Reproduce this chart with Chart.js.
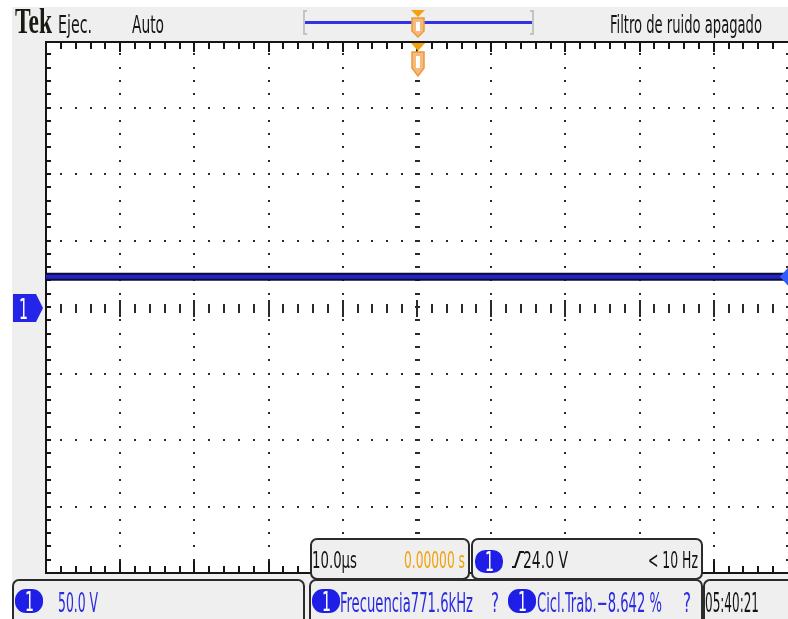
<!DOCTYPE html>
<html>
<head>
<meta charset="utf-8">
<script src="https://cdn.jsdelivr.net/npm/chart.js@4.4.0/dist/chart.umd.min.js"></script>
<style>
html,body{margin:0;padding:0;background:#ffffff;}
canvas{display:block;}
</style>
</head>
<body>
<canvas id="scope" width="788" height="619"></canvas>
<script>
// ---- data ----
const timeUs    = [-50, -40, -30, -20, -10, 0, 10, 20, 30, 40, 50];          // 10.0 µs / div
const ch1Volts  = [22.8, 22.8, 22.8, 22.8, 22.8, 22.8, 22.8, 22.8, 22.8, 22.8, 22.8]; // 50.0 V / div
const timeRange = [-50, 50];
const voltRange = [-200, 200];
const xDivTicks = [-50, -40, -30, -20, -10, 0, 10, 20, 30, 40, 50];
const yDivTicks = [-200, -150, -100, -50, 0, 50, 100, 150, 200];
const xMinorStep = 2;
const yMinorStep = 10;

const headerLeft   = ['Tek', 'Ejec.', 'Auto'];
const headerRight  = 'Filtro de ruido apagado';
const timebaseText = '10.0µs';
const positionText = '0.00000 s';
const triggerLevel = '24.0 V';
const triggerFreq  = '< 10 Hz';
const channelScale = '50.0 V';
const measFreq     = 'Frecuencia771.6kHz';
const measDuty     = 'Cicl.Trab.−8.642 %';
const clockText    = '05:40:21';

// ---- styles ----
const GREY = '#efefef';
const BLUE = '#1e1ee6';
const BLUE_TXT = '#2a2ae0';
const ORANGE = '#f2a20a';
const SANS = "'Liberation Sans Narrow','DejaVu Sans Condensed','Liberation Sans',sans-serif";
const SERIF = "'Liberation Serif','DejaVu Serif',serif";

function fitText(ctx, s, x, y, w, font, color) {
  ctx.save();
  ctx.font = font;
  const m = ctx.measureText(s).width;
  ctx.translate(x, y);
  ctx.scale(w / m, 1);
  ctx.fillStyle = color;
  ctx.textBaseline = 'alphabetic';
  ctx.textAlign = 'left';
  ctx.fillText(s, 0, 0);
  ctx.restore();
}
function rrPath(ctx, x, y, w, h, r) {
  ctx.beginPath();
  ctx.moveTo(x + r, y);
  ctx.lineTo(x + w - r, y);
  ctx.arcTo(x + w, y, x + w, y + r, r);
  ctx.lineTo(x + w, y + h - r);
  ctx.arcTo(x + w, y + h, x + w - r, y + h, r);
  ctx.lineTo(x + r, y + h);
  ctx.arcTo(x, y + h, x, y + h - r, r);
  ctx.lineTo(x, y + r);
  ctx.arcTo(x, y, x + r, y, r);
  ctx.closePath();
}
function box(ctx, x, y, w, h) {
  ctx.save();
  rrPath(ctx, x, y, w, h, 6);
  ctx.fillStyle = GREY;
  ctx.fill();
  ctx.lineWidth = 2;
  ctx.strokeStyle = '#2b2b2b';
  ctx.stroke();
  ctx.restore();
}
function pill(ctx, x, y, w, h) {
  ctx.save();
  rrPath(ctx, x, y, w, h, h / 2 - 1);
  ctx.fillStyle = BLUE;
  ctx.fill();
  ctx.restore();
  fitText(ctx, '1', x + w / 2 - 4, y + h - 2, 9, '26px ' + SANS, '#ffffff');
}
function trigMarker(ctx, cx, ty, triH, bodyTop, bodyBot, tip) {
  ctx.save();
  ctx.beginPath();
  ctx.moveTo(cx - 7, ty); ctx.lineTo(cx + 7, ty); ctx.lineTo(cx, ty + triH); ctx.closePath();
  ctx.fillStyle = ORANGE; ctx.fill();
  ctx.beginPath();
  ctx.moveTo(cx - 6, bodyTop); ctx.lineTo(cx + 6, bodyTop); ctx.lineTo(cx + 6, bodyBot);
  ctx.lineTo(cx, tip); ctx.lineTo(cx - 6, bodyBot); ctx.closePath();
  ctx.fillStyle = '#f6bb7c'; ctx.fill();
  ctx.lineWidth = 1.5; ctx.strokeStyle = '#eb9a3c'; ctx.stroke();
  ctx.fillStyle = '#ffffff';
  ctx.fillRect(cx - 2, bodyTop + 4, 4, (bodyBot - bodyTop) - 4);
  ctx.restore();
}

const scopePlugin = {
  id: 'scope',
  beforeDraw(chart) {
    const ctx = chart.ctx, a = chart.chartArea;
    ctx.save();
    ctx.fillStyle = '#ffffff';
    ctx.fillRect(0, 0, chart.width, chart.height);
    ctx.fillStyle = GREY;
    ctx.fillRect(12, 7, chart.width - 12, chart.height - 7);
    ctx.fillStyle = '#ffffff';
    ctx.fillRect(a.left, a.top, a.right - a.left, a.bottom - a.top);
    ctx.restore();
  },
  beforeDatasetsDraw(chart) {
    const ctx = chart.ctx, a = chart.chartArea;
    const xs = chart.scales.x, ys = chart.scales.y;
    ctx.save();
    ctx.fillStyle = '#2a2a2a';
    for (const t of xDivTicks) {
      if (t === timeRange[0] || t === timeRange[1]) continue;
      const px = Math.round(xs.getPixelForValue(t));
      for (let v = voltRange[0] + yMinorStep; v < voltRange[1]; v += yMinorStep) {
        const py = Math.round(ys.getPixelForValue(v));
        if (t === 0) ctx.fillRect(px - 2, py - 1, 5, 2);
        else ctx.fillRect(px - 1, py - 1, 2, 2);
      }
    }
    for (const v of yDivTicks) {
      if (v === voltRange[0] || v === voltRange[1]) continue;
      const py = Math.round(ys.getPixelForValue(v));
      for (let t = timeRange[0] + xMinorStep; t < timeRange[1]; t += xMinorStep) {
        const px = Math.round(xs.getPixelForValue(t));
        if (v === 0) {
          const major = (t % 10 === 0);
          if (major) ctx.fillRect(px - 1, py - 7, 2, 17);
          else ctx.fillRect(px - 1, py - 3, 2, 9);
        } else ctx.fillRect(px - 1, py - 1, 2, 2);
      }
    }
    for (let v = voltRange[0] + yMinorStep; v < voltRange[1]; v += yMinorStep) {
      const py = Math.round(ys.getPixelForValue(v));
      ctx.fillRect(a.right - 2, py - 1, 2, 2);
    }
    ctx.fillStyle = '#151515';
    ctx.fillRect(a.left - 1, a.top, a.right - a.left + 1, 2);
    ctx.fillRect(a.left - 1, a.top, 2, a.bottom - a.top);
    ctx.fillRect(a.left - 1, a.bottom - 1, a.right - a.left + 1, 2);
    for (let t = timeRange[0] + xMinorStep; t < timeRange[1]; t += xMinorStep) {
      const px = Math.round(xs.getPixelForValue(t));
      const major = (t % 10 === 0);
      ctx.fillRect(px - 1, a.top, 2, major ? 11 : 8);
      ctx.fillRect(px - 1, a.bottom - (major ? 12 : 7), 2, major ? 12 : 7);
    }
    for (let v = voltRange[0] + yMinorStep; v < voltRange[1]; v += yMinorStep) {
      const py = Math.round(ys.getPixelForValue(v));
      ctx.fillRect(a.left, py - 1, 5, 2);
    }
    ctx.restore();
  },
  afterDatasetsDraw(chart) {
    const ctx = chart.ctx, a = chart.chartArea;
    const ys = chart.scales.y;
    ctx.save();
    const ty = ys.getPixelForValue(ch1Volts[ch1Volts.length - 1]);
    ctx.beginPath();
    ctx.moveTo(780, ty); ctx.lineTo(788, ty - 9); ctx.lineTo(788, ty + 9); ctx.closePath();
    ctx.fillStyle = '#2f5cff'; ctx.fill();

    const gy = ys.getPixelForValue(0) + 1;
    ctx.beginPath();
    ctx.moveTo(13, gy - 14); ctx.lineTo(36, gy - 14); ctx.lineTo(43, gy);
    ctx.lineTo(36, gy + 14); ctx.lineTo(13, gy + 14); ctx.closePath();
    ctx.fillStyle = '#2525ea'; ctx.fill();
    fitText(ctx, '1', 19, gy + 11, 9, '28px ' + SANS, '#ffffff');

    fitText(ctx, headerLeft[0], 15, 33, 37, 'bold 36px ' + SERIF, '#1a1a12');
    fitText(ctx, headerLeft[1], 58, 33, 34, '25px ' + SANS, '#141414');
    fitText(ctx, headerLeft[2], 132, 33, 32, '25px ' + SANS, '#141414');
    fitText(ctx, headerRight, 610, 33, 152, '25px ' + SANS, '#141414');
    ctx.strokeStyle = '#c4c4c4'; ctx.lineWidth = 2;
    ctx.beginPath(); ctx.moveTo(307, 11); ctx.lineTo(304, 11); ctx.lineTo(304, 34); ctx.lineTo(307, 34); ctx.stroke();
    ctx.beginPath(); ctx.moveTo(530, 11); ctx.lineTo(533, 11); ctx.lineTo(533, 34); ctx.lineTo(530, 34); ctx.stroke();
    ctx.fillStyle = '#3333e6';
    ctx.fillRect(305, 21, 227, 3);
    trigMarker(ctx, 418, 10, 7, 18, 31, 37);
    trigMarker(ctx, 418, 43, 8, 52, 68, 76);

    box(ctx, 311, 539, 158, 40);
    box(ctx, 472, 539, 230, 40);
    fitText(ctx, timebaseText, 312, 568, 45, '23px ' + SANS, '#141414');
    fitText(ctx, positionText, 404, 568, 61, '23px ' + SANS, ORANGE);
    pill(ctx, 475, 550, 28, 23);
    ctx.strokeStyle = '#141414'; ctx.lineWidth = 2;
    ctx.beginPath(); ctx.moveTo(512, 567); ctx.lineTo(515, 567); ctx.lineTo(520, 552); ctx.lineTo(524, 552); ctx.stroke();
    fitText(ctx, triggerLevel, 523, 568, 45, '23px ' + SANS, '#141414');
    fitText(ctx, triggerFreq, 648, 568, 50, '23px ' + SANS, '#141414');

    box(ctx, 13, 580, 291, 48);
    box(ctx, 310, 580, 392, 48);
    box(ctx, 704, 580, 100, 48);
    pill(ctx, 15, 589, 28, 24);
    fitText(ctx, channelScale, 58, 612, 40, '26px ' + SANS, BLUE_TXT);
    pill(ctx, 312, 589, 28, 24);
    fitText(ctx, measFreq, 340, 612, 133, '26px ' + SANS, BLUE_TXT);
    fitText(ctx, '?', 491, 612, 8, '26px ' + SANS, BLUE_TXT);
    pill(ctx, 508, 589, 28, 24);
    fitText(ctx, measDuty, 537, 612, 125, '26px ' + SANS, BLUE_TXT);
    fitText(ctx, '?', 683, 612, 8, '26px ' + SANS, BLUE_TXT);
    fitText(ctx, clockText, 705, 612, 54, '26px ' + SANS, '#141414');
    ctx.restore();
  }
};

const points = timeUs.map((t, i) => ({ x: t, y: ch1Volts[i] }));

new Chart(document.getElementById('scope'), {
  type: 'line',
  data: {
    datasets: [
      { data: points, borderColor: '#2222c8', borderWidth: 4, pointRadius: 0, tension: 0, order: 1 },
      { data: points, borderColor: '#0c0c30', borderWidth: 8, pointRadius: 0, tension: 0, order: 2 }
    ]
  },
  options: {
    responsive: false,
    animation: false,
    devicePixelRatio: 1,
    layout: { padding: { left: 46, top: 41, right: 0, bottom: 46 } },
    scales: {
      x: { type: 'linear', min: timeRange[0], max: timeRange[1], display: false },
      y: { type: 'linear', min: voltRange[0], max: voltRange[1], display: false }
    },
    plugins: { legend: { display: false }, tooltip: { enabled: false } }
  },
  plugins: [scopePlugin]
});
</script>
</body>
</html>
